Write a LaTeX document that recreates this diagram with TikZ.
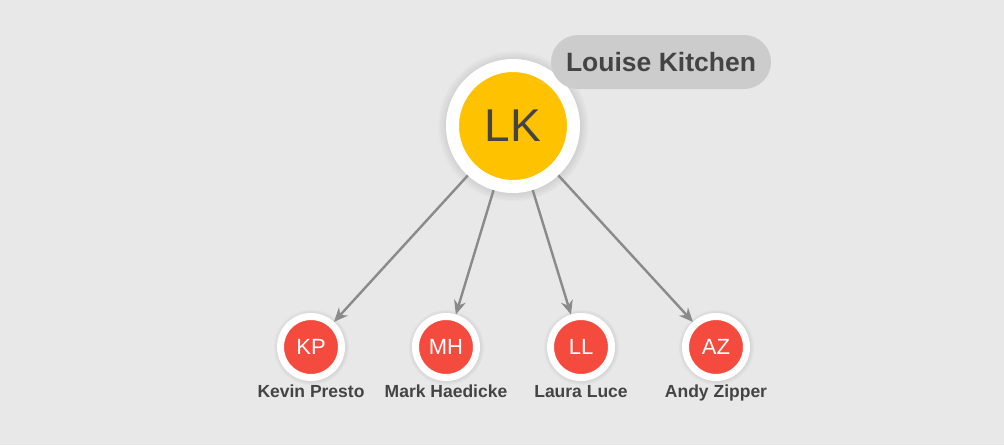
\documentclass[tikz,border=0pt]{standalone}
\usepackage{fontspec}
\setmainfont{Liberation Sans}
\usepackage{tikz}
\usetikzlibrary{arrows.meta,positioning,shadows}

\definecolor{bgcol}{HTML}{E8E8E8}
\definecolor{bosscol}{HTML}{FFC200}
\definecolor{staffcol}{HTML}{F44B3E}
\definecolor{inkcol}{HTML}{444444}
\definecolor{pillcol}{HTML}{CCCCCC}
\definecolor{edgecol}{HTML}{8A8A8A}

\begin{document}
\begin{tikzpicture}[x=1pt,y=-1pt,>={Stealth[length=14pt,width=12pt]},node distance=135pt,
	boss/.style={circle,fill=bosscol,draw=white,line width=13pt,minimum size=121pt,inner sep=0pt,
		text=inkcol,font=\fontsize{46}{46}\selectfont,circular glow={fill=black,opacity=.12}},
	staff/.style={circle,fill=staffcol,draw=white,line width=7pt,minimum size=61pt,inner sep=0pt,
		text=white,font=\fontsize{22}{22}\selectfont,circular glow={fill=black,opacity=.10}},
	staffname/.style={inner sep=0pt,text height=12.5pt,text depth=3.5pt,text=inkcol,
		font=\fontsize{17.5}{17.5}\selectfont\bfseries},
	pill/.style={fill=pillcol,rounded corners=27pt,minimum width=220pt,minimum height=54pt,
		inner sep=0pt,text=inkcol,font=\fontsize{26.5}{26.5}\selectfont\bfseries},
	link/.style={->,draw=edgecol,line width=2.4pt}]
		\fill[bgcol,use as bounding box] (0,0) rectangle (1004,445);

		\node[boss] (lk) at (513,126) {LK};
		\node[pill] (lkname) at (661,62) {Louise Kitchen};

		\node[staff] (kp) at (311,347) {KP};
		\node[staff] (mh) [right of=kp] {MH};
		\node[staff] (ll) [right of=mh] {LL};
		\node[staff] (az) [right of=ll] {AZ};

		\node[staffname] (kpname) [below=3.5pt of kp] {Kevin Presto};
		\node[staffname] (mhname) [below=3.5pt of mh] {Mark Haedicke};
		\node[staffname] (llname) [below=3.5pt of ll] {Laura Luce};
		\node[staffname] (azname) [below=3.5pt of az] {Andy Zipper};

		\path[link]
		(lk) edge (kp)
		(lk) edge (mh)
		(lk) edge (ll)
		(lk) edge (az)
		;
	\end{tikzpicture}
\end{document}
